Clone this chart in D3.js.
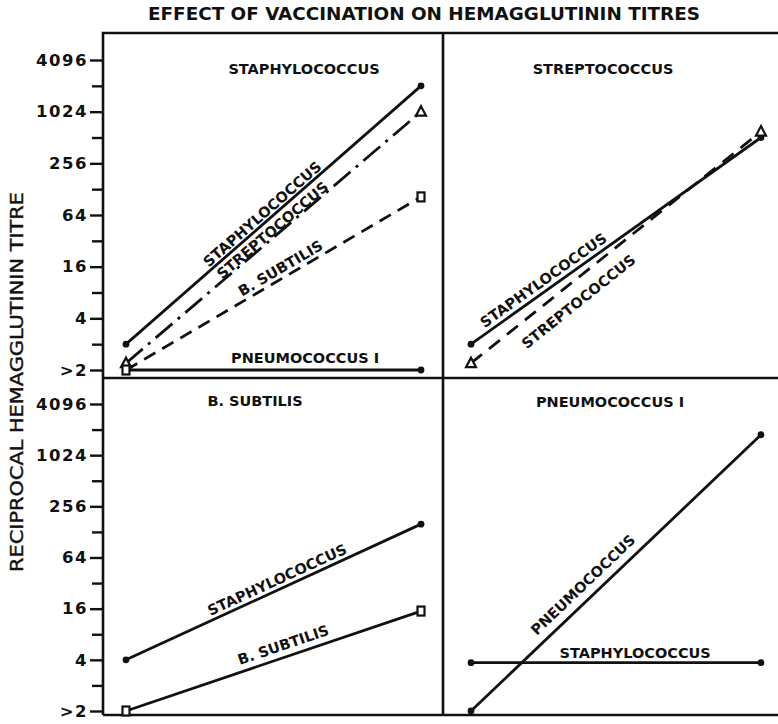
<!DOCTYPE html>
<html>
<head>
<meta charset="utf-8">
<script src="https://cdn.jsdelivr.net/npm/d3@7"></script>
<style>
  html, body { margin: 0; padding: 0; background: #fff; }
  svg { display: block; }
  text { font-family: "DejaVu Sans", sans-serif; fill: #111; }
</style>
</head>
<body>
<svg id="chart" width="778" height="724"></svg>
<script>
// ---------------- data ----------------
const timepoints = ["before", "after"];
const tickValues = [1, 4, 16, 64, 256, 1024, 4096];
const tickLabels = [">2", "4", "16", "64", "256", "1024", "4096"];
const minorTickValues = [2, 8, 32, 128, 512, 2048];
const panelTitles = ["STAPHYLOCOCCUS", "STREPTOCOCCUS", "B.  SUBTILIS", "PNEUMOCOCCUS I"];

// reciprocal titres, before / after vaccination
// panel 1: vaccinated with Staphylococcus
const staphVacc_staph = [2, 2048];
const staphVacc_strep = [1.2, 1024];
const staphVacc_subtilis = [1, 104];
const staphVacc_pneumo = [1, 1];
// panel 2: vaccinated with Streptococcus
const strepVacc_staph = [2, 512];
const strepVacc_strep = [1.2, 600];
// panel 3: vaccinated with B. subtilis
const subtilisVacc_staph = [4, 158];
const subtilisVacc_subtilis = [1, 15];
// panel 4: vaccinated with Pneumococcus I
const pneumoVacc_staph = [3.7, 3.7];
const pneumoVacc_pneumo = [1, 1780];

// ---------------- layout ----------------
const svg = d3.select("#chart");
const L = 103, MX = 443, R = 778, T = 33, MY = 378, B = 715;

const yTop = d3.scaleLog().base(2).domain([1, 4096]).range([370, 60]);
const yBot = d3.scaleLog().base(2).domain([1, 4096]).range([711, 404]);
const xLeft = d3.scalePoint().domain(timepoints).range([126, 421]);
const xRight = d3.scalePoint().domain(timepoints).range([471, 761]);

const styles = {
  solid: null,
  dashed: "13,8",
  dashdot: "22,7,3,7",
  dashed2: "14,9"
};

const panels = [
  { x: xLeft, y: yTop, title: panelTitles[0], titleX: 304, titleY: 74,
    series: [
      { v: staphVacc_staph, dash: "solid", marker: "dot", label: "STAPHYLOCOCCUS", t: 0.48, off: 3 },
      { v: staphVacc_strep, dash: "dashdot", marker: "tri", label: "STREPTOCOCCUS", t: 0.51, off: 1 },
      { v: staphVacc_subtilis, dash: "dashed", marker: "sq", label: "B.  SUBTILIS", t: 0.54, off: 4.5 },
      { v: staphVacc_pneumo, dash: "solid", marker: "dot", label: "PNEUMOCOCCUS I", t: 0.607, off: 7 }
    ]},
  { x: xRight, y: yTop, title: panelTitles[1], titleX: 603, titleY: 74,
    series: [
      { v: strepVacc_staph, dash: "solid", marker: "dot", label: "STAPHYLOCOCCUS", t: 0.27, off: 5 },
      { v: strepVacc_strep, dash: "dashed2", marker: "tri", label: "STREPTOCOCCUS", t: 0.33, off: -24 }
    ]},
  { x: xLeft, y: yBot, title: panelTitles[2], titleX: 255, titleY: 406,
    series: [
      { v: subtilisVacc_staph, dash: "solid", marker: "dot", label: "STAPHYLOCOCCUS", t: 0.526, off: 4.5 },
      { v: subtilisVacc_subtilis, dash: "solid", marker: "sq", label: "B.  SUBTILIS", t: 0.546, off: 7 }
    ]},
  { x: xRight, y: yBot, title: panelTitles[3], titleX: 610, titleY: 407,
    series: [
      { v: pneumoVacc_staph, dash: "solid", marker: "dot", label: "STAPHYLOCOCCUS", t: 0.566, off: 5 },
      { v: pneumoVacc_pneumo, dash: "solid", marker: "dot", label: "PNEUMOCOCCUS", t: 0.42, off: 9 }
    ]}
];

// ---------------- title ----------------
svg.append("text")
  .attr("x", 424).attr("y", 20)
  .attr("text-anchor", "middle")
  .attr("font-size", 17.5).attr("font-weight", "bold")
  .attr("textLength", 552).attr("lengthAdjust", "spacingAndGlyphs")
  .text("EFFECT OF VACCINATION  ON HEMAGGLUTININ TITRES");

// y-axis label
svg.append("text")
  .attr("transform", "translate(23,382) rotate(-90)")
  .attr("text-anchor", "middle")
  .attr("font-size", 17)
  .attr("stroke", "#111").attr("stroke-width", 0.4)
  .attr("textLength", 380).attr("lengthAdjust", "spacingAndGlyphs")
  .text("RECIPROCAL  HEMAGGLUTININ  TITRE");

// ---------------- frame ----------------
const frame = svg.append("g").attr("stroke", "#111").attr("stroke-width", 2.6).attr("fill", "none");
frame.append("path").attr("d", `M${L},${B}V${T}H${R}`);
frame.append("path").attr("d", `M${L},${MY}H${R}`);
frame.append("path").attr("d", `M${MX},${T}V${B}`);
frame.append("path").attr("d", `M${L},${B}H${R}`);

// ---------------- axes ----------------
[yTop, yBot].forEach(y => {
  const g = svg.append("g").attr("transform", `translate(${L},0)`)
    .call(d3.axisLeft(y).tickValues(tickValues)
      .tickFormat((d, i) => tickLabels[i]).tickSize(13).tickPadding(2));
  g.select(".domain").remove();
  g.selectAll(".tick line").attr("stroke", "#111").attr("stroke-width", 2.4);
  g.selectAll(".tick text").attr("font-size", 16.5).attr("font-weight", "bold")
    .attr("letter-spacing", 1.5).attr("fill", "#111")
    .style("font-family", "DejaVu Sans, sans-serif");
  const gm = svg.append("g").attr("transform", `translate(${L},0)`)
    .call(d3.axisLeft(y).tickValues(minorTickValues).tickFormat("").tickSize(11));
  gm.select(".domain").remove();
  gm.selectAll(".tick line").attr("stroke", "#111").attr("stroke-width", 2.4);
});

// ---------------- panels ----------------
panels.forEach(p => {
  const g = svg.append("g");
  const gLines = g.append("g"), gDots = g.append("g"), gOpen = g.append("g"), gText = g.append("g");
  gText.append("text").attr("x", p.titleX).attr("y", p.titleY)
    .attr("text-anchor", "middle").attr("font-size", 14.5).attr("font-weight", "bold")
    .text(p.title);

  p.series.forEach(s => {
    const pts = timepoints.map((tp, i) => [p.x(tp), p.y(s.v[i])]);
    gLines.append("path")
      .attr("d", d3.line()(pts))
      .attr("fill", "none").attr("stroke", "#111").attr("stroke-width", 2.8)
      .attr("stroke-dasharray", styles[s.dash]);

    pts.forEach(([px, py]) => {
      if (s.marker === "dot") {
        gDots.append("circle").attr("cx", px).attr("cy", py).attr("r", 3.4).attr("fill", "#111");
      } else if (s.marker === "tri") {
        gOpen.append("path")
          .attr("d", `M${px},${py - 5.5}L${px + 5},${py + 4}L${px - 5},${py + 4}Z`)
          .attr("fill", "#fff").attr("stroke", "#111").attr("stroke-width", 2.2);
      } else {
        gOpen.append("rect").attr("x", px - 3.5).attr("y", py - 4.5).attr("width", 7).attr("height", 9)
          .attr("fill", "#fff").attr("stroke", "#111").attr("stroke-width", 2.2);
      }
    });

    // label along the line
    const [x0, y0] = pts[0], [x1, y1] = pts[1];
    const dx = x1 - x0, dy = y1 - y0, len = Math.hypot(dx, dy);
    const ux = dx / len, uy = dy / len;
    const nx = uy, ny = -ux; // upward normal
    const lx = x0 + dx * s.t + nx * s.off;
    const ly = y0 + dy * s.t + ny * s.off;
    const ang = Math.atan2(dy, dx) * 180 / Math.PI;
    gText.append("text")
      .attr("transform", `translate(${lx},${ly}) rotate(${ang})`)
      .attr("text-anchor", "middle").attr("font-size", 14.5).attr("font-weight", "bold")
      .text(s.label);
  });
});
</script>
</body>
</html>
